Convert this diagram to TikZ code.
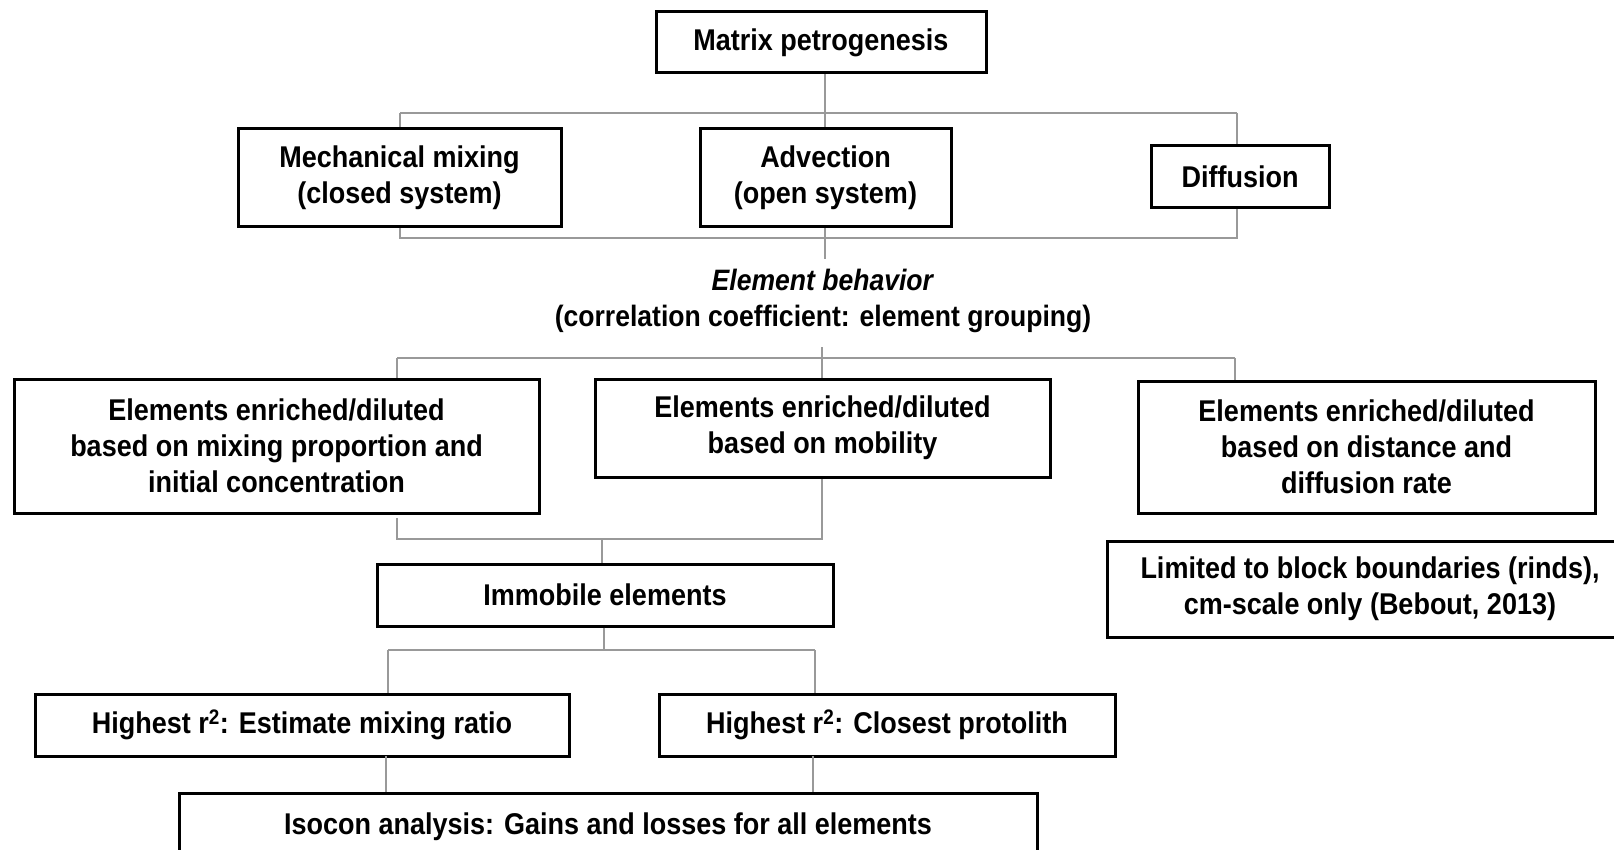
\documentclass[tikz,border=0pt]{standalone}
\usepackage{fontspec}
\setmainfont{Liberation Sans}[FakeStretch=0.9]
\begin{document}
\begin{tikzpicture}[x=1pt,y=-1pt,
  box/.style={draw=black, line width=3pt, rectangle, inner sep=0pt, align=center,
    font=\fontsize{30}{36}\selectfont\bfseries, fill=white},
  conn/.style={draw=black!40, line width=2pt},
  lbl/.style={align=center, font=\fontsize{29.5}{36}\selectfont\bfseries, inner sep=0pt}]
\useasboundingbox (0,0) rectangle (1614,850);
\clip (0,0) rectangle (1614,850);
% boxes
\node[box, minimum width=330pt, minimum height=61pt] (mp) at (821,42.5) {Matrix petrogenesis};
\node[box, minimum width=323pt, minimum height=98pt] (mech) at (399.5,178) {Mechanical mixing\\(closed system)};
\node[box, minimum width=251pt, minimum height=98pt] (adv) at (825.5,178) {Advection\\(open system)};
\node[box, minimum width=178pt, minimum height=62pt] (diff) at (1240,177) {Diffusion};
\node[lbl] (eb) at (823,301) {\textit{Element behavior}\\(correlation coefficient: element grouping)};
\node[box, minimum width=525pt, minimum height=134pt] (e1) at (276.5,446) {Elements enriched/diluted\\based on mixing proportion and\\initial concentration};
\node[box, minimum width=455pt, minimum height=98pt] (e2) at (822.5,428) {Elements enriched/diluted\\based on mobility};
\node[box, minimum width=457pt, minimum height=132pt] (e3) at (1366.5,447) {Elements enriched/diluted\\based on distance and\\diffusion rate};
\node[box, minimum width=456pt, minimum height=62pt] (imm) at (605,595) {Immobile elements};
\node[box, minimum width=526pt, minimum height=96pt] (lim) at (1370,589) {Limited to block boundaries (rinds),\\cm-scale only (Bebout, 2013)};
\node[box, minimum width=534pt, minimum height=62pt] (h1) at (302,725) {Highest r\textsuperscript{2}: Estimate mixing ratio};
\node[box, minimum width=456pt, minimum height=62pt] (h2) at (887,725) {Highest r\textsuperscript{2}: Closest protolith};
\node[box, minimum width=858pt, minimum height=68pt] (iso) at (608,827) {Isocon analysis: Gains and losses for all elements};
% bus coordinates
\coordinate (b1) at (825,113);
\coordinate (b1l) at (400,113);
\coordinate (b1r) at (1237,113);
\coordinate (b2) at (825,238);
\coordinate (b2l) at (400,238);
\coordinate (b2r) at (1237,238);
\coordinate (b2e) at (825,259);
\coordinate (b3s) at (822,347);
\coordinate (b3) at (822,358);
\coordinate (b3l) at (397,358);
\coordinate (b3r) at (1235,358);
\coordinate (b4s) at (397,518);
\coordinate (b4l) at (397,539);
\coordinate (b4r) at (822,539);
\coordinate (b4m) at (602,539);
\coordinate (b5) at (604,650);
\coordinate (b5l) at (388,650);
\coordinate (b5r) at (815,650);
\coordinate (b6l) at (386,756);
\coordinate (b6r) at (813,756);
% connectors
\draw[conn] (mp.south -| b1) -- (b1);
\draw[conn] (b1l) -- (b1r);
\draw[conn] (b1l) -- (mech.north -| b1l);
\draw[conn] (b1) -- (adv.north -| b1);
\draw[conn] (b1r) -- (diff.north -| b1r);
\draw[conn] (mech.south -| b2l) -- (b2l) -- (b2r) -- (diff.south -| b2r);
\draw[conn] (adv.south -| b2e) -- (b2e);
\draw[conn] (b3s) -- (b3);
\draw[conn] (b3l) -- (b3r);
\draw[conn] (b3l) -- (e1.north -| b3l);
\draw[conn] (b3) -- (e2.north -| b3);
\draw[conn] (b3r) -- (e3.north -| b3r);
\draw[conn] (b4s) -- (b4l) -- (b4r) -- (e2.south -| b4r);
\draw[conn] (b4m) -- (imm.north -| b4m);
\draw[conn] (imm.south -| b5) -- (b5);
\draw[conn] (b5l) -- (b5r);
\draw[conn] (b5l) -- (h1.north -| b5l);
\draw[conn] (b5r) -- (h2.north -| b5r);
\draw[conn] (b6l) -- (iso.north -| b6l);
\draw[conn] (b6r) -- (iso.north -| b6r);
\end{tikzpicture}
\end{document}
